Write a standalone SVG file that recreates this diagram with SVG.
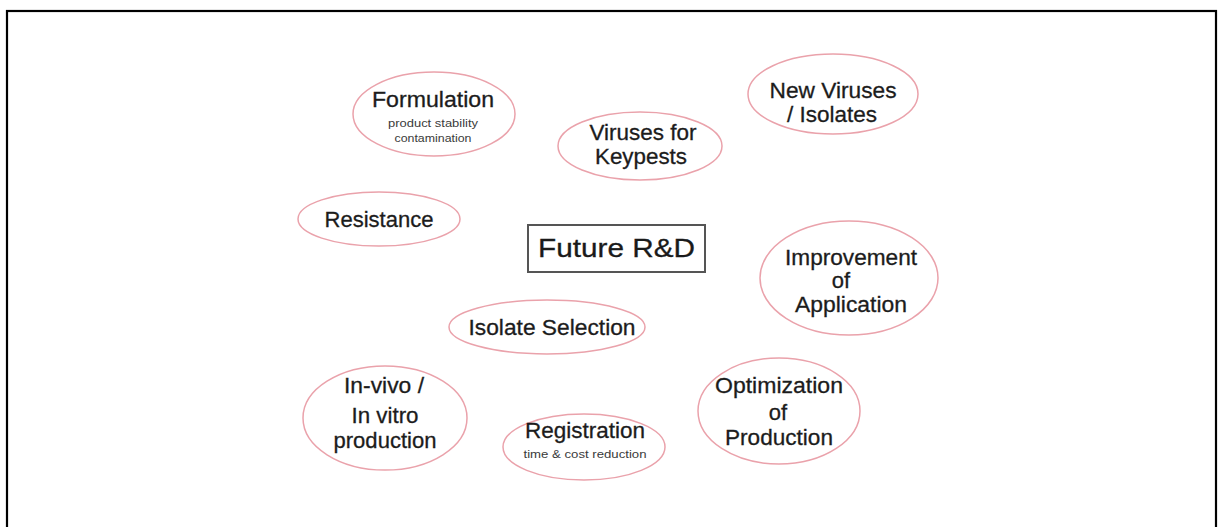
<svg xmlns="http://www.w3.org/2000/svg" width="1224" height="527" viewBox="0 0 1224 527">
  <style>
    .bubble { fill: #ffffff; stroke: #eaa2ab; stroke-width: 1.5; }
    .lbl { font-family: "Liberation Sans", Arial, sans-serif; font-size: 22px; fill: #1c1c1c; stroke: #1c1c1c; stroke-width: 0.3; text-anchor: middle; }
    .sub { font-family: "Liberation Sans", Arial, sans-serif; font-size: 10px; fill: #3a3a3a; text-anchor: middle; }
    .title { font-family: "Liberation Sans", Arial, sans-serif; font-size: 26px; fill: #1a1a1a; stroke: #1a1a1a; stroke-width: 0.3; text-anchor: middle; }
  </style>
  <rect width="1224" height="527" fill="#ffffff"/>
  <!-- outer frame, open at the bottom edge -->
  <rect x="7" y="11" width="1209" height="530" fill="none" stroke="#000000" stroke-width="2.2"/>

  <g id="connectors"></g>

  <g id="future-rd">
    <rect x="528" y="225" width="177" height="47" fill="#ffffff" stroke="#555555" stroke-width="2"/>
    <text class="title" x="616.5" y="257" textLength="157" lengthAdjust="spacingAndGlyphs">Future R&amp;D</text>
  </g>

  <g id="formulation">
    <ellipse class="bubble" cx="434" cy="114" rx="81" ry="42"/>
    <text class="lbl" x="433" y="107" textLength="122" lengthAdjust="spacingAndGlyphs">Formulation</text>
    <text class="sub" x="433" y="127" textLength="90" lengthAdjust="spacingAndGlyphs">product stability</text>
    <text class="sub" x="433" y="142" textLength="77" lengthAdjust="spacingAndGlyphs">contamination</text>
  </g>

  <g id="viruses-keypests">
    <ellipse class="bubble" cx="640" cy="146" rx="82" ry="34"/>
    <text class="lbl" x="643" y="140" textLength="107" lengthAdjust="spacingAndGlyphs">Viruses for</text>
    <text class="lbl" x="641" y="164" textLength="92" lengthAdjust="spacingAndGlyphs">Keypests</text>
  </g>

  <g id="new-viruses">
    <ellipse class="bubble" cx="833" cy="94" rx="85" ry="40"/>
    <text class="lbl" x="833" y="98" textLength="127" lengthAdjust="spacingAndGlyphs">New Viruses</text>
    <text class="lbl" x="832" y="122" textLength="90" lengthAdjust="spacingAndGlyphs">/ Isolates</text>
  </g>

  <g id="resistance">
    <ellipse class="bubble" cx="379" cy="219" rx="81" ry="27"/>
    <text class="lbl" x="379" y="227" textLength="109" lengthAdjust="spacingAndGlyphs">Resistance</text>
  </g>

  <g id="improvement">
    <ellipse class="bubble" cx="849" cy="278" rx="89" ry="57"/>
    <text class="lbl" x="851" y="265" textLength="132" lengthAdjust="spacingAndGlyphs">Improvement</text>
    <text class="lbl" x="841" y="288">of</text>
    <text class="lbl" x="851" y="312" textLength="112" lengthAdjust="spacingAndGlyphs">Application</text>
  </g>

  <g id="isolate-selection">
    <ellipse class="bubble" cx="547" cy="327" rx="98" ry="27"/>
    <text class="lbl" x="552" y="335" textLength="167" lengthAdjust="spacingAndGlyphs">Isolate Selection</text>
  </g>

  <g id="in-vivo">
    <ellipse class="bubble" cx="385" cy="418" rx="82" ry="52"/>
    <text class="lbl" x="384" y="393" textLength="80" lengthAdjust="spacingAndGlyphs">In-vivo /</text>
    <text class="lbl" x="385" y="423" textLength="67" lengthAdjust="spacingAndGlyphs">In vitro</text>
    <text class="lbl" x="385" y="448" textLength="103" lengthAdjust="spacingAndGlyphs">production</text>
  </g>

  <g id="registration">
    <ellipse class="bubble" cx="584" cy="447" rx="81" ry="33"/>
    <text class="lbl" x="585" y="438" textLength="120" lengthAdjust="spacingAndGlyphs">Registration</text>
    <text class="sub" x="585" y="458" textLength="123" lengthAdjust="spacingAndGlyphs">time &amp; cost reduction</text>
  </g>

  <g id="optimization">
    <ellipse class="bubble" cx="779" cy="411" rx="81" ry="53"/>
    <text class="lbl" x="779" y="393" textLength="128" lengthAdjust="spacingAndGlyphs">Optimization</text>
    <text class="lbl" x="778" y="420">of</text>
    <text class="lbl" x="779" y="445" textLength="108" lengthAdjust="spacingAndGlyphs">Production</text>
  </g>
</svg>
